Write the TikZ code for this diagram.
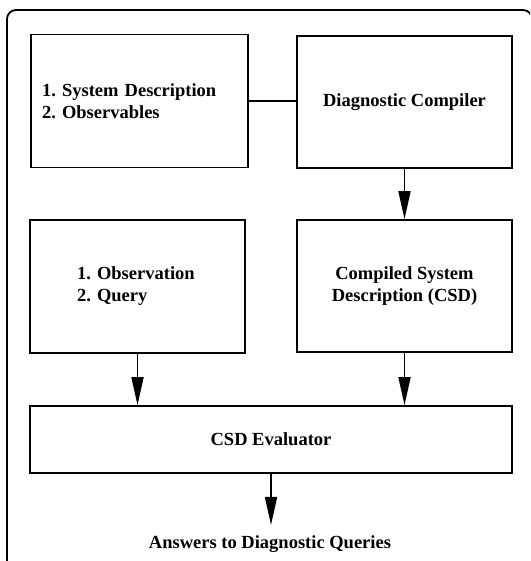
\documentclass[tikz,border=0pt]{standalone}
\usepackage{fontspec}
\setmainfont{Liberation Serif}
\usetikzlibrary{arrows.meta}
\frenchspacing

\begin{document}
\begin{tikzpicture}[x=1pt, y=-1pt,
	box/.style={draw, line width=1.7pt, inner sep=0pt, font=\bfseries\fontsize{18.5}{22}\selectfont},
	arr/.style={line width=1.7pt, -{Triangle[length=28pt, width=12pt]}}]
			%%%%% START %%%%%
			
			\clip (0, 0) rectangle (530, 561);
			\draw[line width=1.8pt, rounded corners=9pt] (7, 570) -- (7, 10) -- (532, 10) -- (532, 570);
			
			\node[box, minimum height=133pt, text width=195pt, inner xsep=11pt, align=left] (sd) at (139.5, 101) {1. System Description\\2. Observables};
			\node[box, minimum width=215pt, minimum height=132pt, align=center] (comp) at (404.5, 102) {Diagnostic Compiler};
			
			\node[box, minimum height=133pt, text width=121pt, inner xsep=47pt, align=left] (obs) at (137.5, 286.5) {1. Observation\\2. Query};
			\node[box, minimum width=215pt, minimum height=132pt, align=center] (csd) at (404.5, 286) {Compiled System\\Description (CSD)};
			
			\node[box, minimum width=482pt, minimum height=67pt] (eval) at (271, 439.5) {CSD Evaluator};
			\node[font=\bfseries\fontsize{18.5}{22}\selectfont, inner ysep=10pt, anchor=base] (ans) at (270, 548) {Answers to Diagnostic Queries};
			
			\draw[line width=1.7pt] (sd.east) -- (sd.east -| comp.west);
			\draw[arr] (comp) -- (csd);
			\draw[arr] (obs.south) -- (obs.south |- eval.north);
			\draw[arr] (csd.south) -- (csd.south |- eval.north);
			\draw[arr] (eval.south) -- (eval.south |- ans.north);
			
			%%%%% END %%%%%
\end{tikzpicture}
\end{document}
